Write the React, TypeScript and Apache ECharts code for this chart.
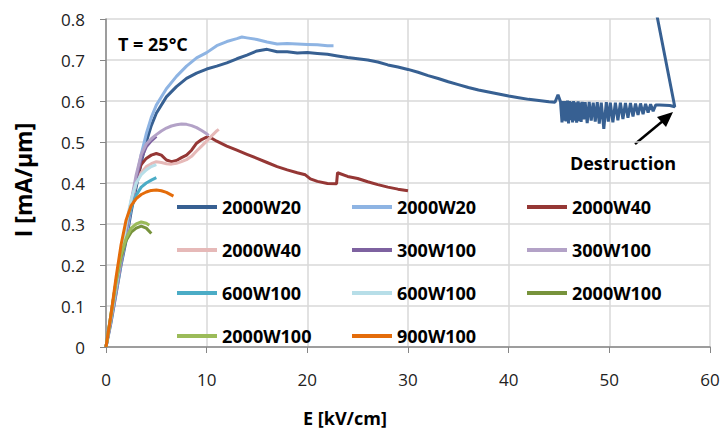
import React, { useEffect, useRef } from "react";
import * as echarts from "echarts";

// [E (kV/cm), I (mA/µm)] pairs
const s2000W20a: number[][] = [
  [0, 0], [0.5, 0.06], [1, 0.13], [1.5, 0.2], [2, 0.26], [2.5, 0.33], [3, 0.39], [3.5, 0.45], [4, 0.5],
  [4.5, 0.54], [5, 0.57], [6, 0.61], [7, 0.635], [8, 0.655], [9, 0.668], [10, 0.678], [11, 0.685],
  [12, 0.693], [13, 0.703], [14, 0.712], [15, 0.722], [16, 0.726], [17, 0.72], [18, 0.72], [19, 0.717],
  [20, 0.718], [21, 0.716], [22, 0.714], [23, 0.71], [24, 0.706], [25, 0.703], [26, 0.7], [27, 0.695],
  [28, 0.688], [29, 0.683], [30, 0.677], [31, 0.67], [32, 0.662], [33, 0.655], [34, 0.647], [35, 0.64],
  [36, 0.633], [37, 0.627], [38, 0.622], [39, 0.617], [40, 0.612], [41, 0.608], [42, 0.604], [43, 0.601],
  [44, 0.598], [44.6, 0.597], [44.9, 0.615], [45.15, 0.598],
  [45.3, 0.548], [45.4, 0.6], [45.5, 0.552], [45.6, 0.6], [45.7, 0.55], [45.85, 0.601], [45.95, 0.545],
  [46.05, 0.6], [46.15, 0.553], [46.25, 0.598], [46.35, 0.548], [46.45, 0.6], [46.55, 0.552], [46.65, 0.597],
  [46.75, 0.547], [46.9, 0.599], [47.0, 0.551], [47.1, 0.596], [47.2, 0.549], [47.3, 0.598], [47.45, 0.555],
  [47.6, 0.597], [47.8, 0.546], [48.0, 0.598], [48.2, 0.552], [48.4, 0.596], [48.6, 0.55], [48.8, 0.597],
  [49.0, 0.545], [49.2, 0.596], [49.45, 0.532], [49.7, 0.597], [49.9, 0.55], [50.1, 0.596], [50.35, 0.548],
  [50.6, 0.596], [50.85, 0.553], [51.1, 0.596], [51.35, 0.556], [51.6, 0.595], [51.85, 0.559], [52.1, 0.595],
  [52.35, 0.562], [52.6, 0.594], [52.85, 0.566], [53.1, 0.594], [53.35, 0.568], [53.6, 0.593], [53.85, 0.572],
  [54.1, 0.592], [54.35, 0.575], [54.6, 0.59], [55.0, 0.59], [56.0, 0.589], [56.5, 0.586], [54.0, 0.9],
];
const s2000W20b: number[][] = [
  [0, 0], [0.5, 0.065], [1, 0.135], [1.5, 0.205], [2, 0.27], [2.5, 0.34], [3, 0.41], [3.5, 0.47], [4, 0.52],
  [4.5, 0.56], [5, 0.59], [6, 0.63], [7, 0.66], [8, 0.685], [9, 0.705], [10, 0.718], [11, 0.735], [12, 0.745],
  [13, 0.752], [13.5, 0.756], [14, 0.754], [15, 0.75], [16, 0.744], [17, 0.739], [18, 0.74], [19, 0.739],
  [20, 0.738], [21, 0.737], [22, 0.735], [22.6, 0.735],
];
const s2000W40a: number[][] = [
  [0, 0], [1, 0.14], [2, 0.29], [3, 0.41], [3.5, 0.445], [4, 0.46], [4.5, 0.468], [5, 0.472], [5.5, 0.468],
  [6, 0.456], [6.5, 0.452], [7, 0.455], [7.5, 0.462], [8, 0.468], [8.5, 0.48], [9, 0.497], [9.5, 0.506],
  [10, 0.512], [10.5, 0.509], [11, 0.502], [12, 0.49], [13, 0.48], [14, 0.47], [15, 0.46], [16, 0.45],
  [17, 0.44], [18, 0.432], [19, 0.425], [19.8, 0.42], [20.3, 0.41], [21, 0.404], [22, 0.399], [22.9, 0.398],
  [23.0, 0.425], [24, 0.416], [25, 0.411], [26, 0.403], [27, 0.396], [28, 0.39], [29, 0.385], [30, 0.381],
];
const s2000W40b: number[][] = [
  [0, 0], [1, 0.14], [2, 0.29], [3, 0.4], [3.5, 0.425], [4, 0.44], [4.5, 0.447], [5, 0.452], [5.5, 0.45],
  [6, 0.447], [6.5, 0.446], [7, 0.448], [7.5, 0.452], [8, 0.457], [8.5, 0.465], [9, 0.478], [9.5, 0.49],
  [10, 0.502], [10.5, 0.515], [11, 0.527], [11.2, 0.531],
];
const s300W100a: number[][] = [
  [0, 0], [1, 0.14], [2, 0.285], [3, 0.41], [3.5, 0.46], [4, 0.488], [4.5, 0.503], [5, 0.514],
];
const s300W100b: number[][] = [
  [0, 0], [1, 0.14], [2, 0.29], [3, 0.42], [3.5, 0.47], [4, 0.495], [4.5, 0.508], [5, 0.518], [5.5, 0.527],
  [6, 0.534], [6.5, 0.539], [7, 0.542], [7.5, 0.544], [8, 0.543], [8.5, 0.54], [9, 0.535], [9.5, 0.528],
  [10, 0.52], [10.2, 0.516],
];
const s600W100a: number[][] = [
  [0, 0], [1, 0.15], [2, 0.3], [2.5, 0.34], [3, 0.37], [3.5, 0.39], [4, 0.4], [4.5, 0.407], [5, 0.413],
];
const s600W100b: number[][] = [
  [0, 0], [1, 0.15], [2, 0.3], [2.5, 0.36], [3, 0.4], [3.5, 0.42], [4, 0.432], [4.5, 0.44], [5, 0.445],
];
const s2000W100a: number[][] = [
  [0, 0], [0.5, 0.08], [1, 0.16], [1.5, 0.22], [2, 0.26], [2.5, 0.28], [3, 0.29], [3.5, 0.295], [4, 0.29],
  [4.5, 0.277],
];
const s2000W100b: number[][] = [
  [0, 0], [0.5, 0.08], [1, 0.16], [1.5, 0.225], [2, 0.265], [2.5, 0.29], [3, 0.3], [3.5, 0.305], [4, 0.302],
  [4.3, 0.297],
];
const s900W100: number[][] = [
  [0, 0], [0.5, 0.08], [1, 0.17], [1.5, 0.25], [2, 0.31], [2.5, 0.345], [3, 0.362], [3.5, 0.372], [4, 0.378],
  [4.5, 0.382], [5, 0.383], [5.5, 0.381], [6, 0.377], [6.7, 0.368],
];

const seriesNames = [
  "2000W20#a", "2000W20#b", "2000W40#a", "2000W40#b", "300W100#a", "300W100#b",
  "600W100#a", "600W100#b", "2000W100#a", "2000W100#b", "900W100",
];
const seriesData = [
  s2000W20a, s2000W20b, s2000W40a, s2000W40b, s300W100a, s300W100b,
  s600W100a, s600W100b, s2000W100a, s2000W100b, s900W100,
];
const seriesColors = [
  "#376092", "#8EB4E3", "#953735", "#E6B9B8", "#7E62A0", "#B3A2C7",
  "#4BACC6", "#B7DEE8", "#77933C", "#9BBB59", "#E46C0A",
];
const legendCols = [
  ["2000W20#a", "2000W40#b", "600W100#a", "2000W100#b"],
  ["2000W20#b", "300W100#a", "600W100#b", "900W100"],
  ["2000W40#a", "300W100#b", "2000W100#a"],
];
const legendLefts = [177, 352, 527];

const FONT = "'Open Sans', 'Noto Sans', sans-serif";

export default function App() {
  const ref = useRef<HTMLDivElement>(null);
  useEffect(() => {
    if (!ref.current) return;
    const chart = echarts.init(ref.current, undefined, { renderer: "svg" });
    const series = seriesNames.map((name, i) => ({
      name,
      type: "line",
      data: seriesData[i],
      showSymbol: false,
      symbol: "none",
      clip: true,
      color: seriesColors[i],
      itemStyle: { color: seriesColors[i] },
      lineStyle: { color: seriesColors[i], width: 3 },
      z: 2,
    }));
    const legends = legendCols.map((col, k) => ({
      orient: "vertical",
      left: legendLefts[k],
      top: 197,
      padding: 0,
      data: col,
      icon: "rect",
      itemWidth: 40,
      itemHeight: 4,
      itemGap: 23,
      selectedMode: false,
      formatter: (n: string) => n.split("#")[0],
      textStyle: { fontFamily: FONT, fontWeight: "bold", fontSize: 18, color: "#000", lineHeight: 20 },
    }));
    chart.setOption({
      animation: false,
      backgroundColor: "#fff",
      grid: { left: 106, right: 13, top: 19, bottom: 87, containLabel: false },
      xAxis: {
        type: "value",
        min: 0,
        max: 60,
        interval: 10,
        axisLine: { show: true, lineStyle: { color: "#868686", width: 1.5 } },
        axisTick: { show: true, length: 6, lineStyle: { color: "#868686" } },
        axisLabel: { fontFamily: FONT, fontSize: 17, color: "#222", margin: 24 },
        splitLine: { show: true, lineStyle: { color: "#D9D9D9", width: 1.5 } },
      },
      yAxis: {
        type: "value",
        min: 0,
        max: 0.8,
        interval: 0.1,
        axisLine: { show: true, lineStyle: { color: "#868686", width: 1.5 } },
        axisTick: { show: true, length: 6, lineStyle: { color: "#868686" } },
        axisLabel: {
          fontFamily: FONT,
          fontSize: 17,
          color: "#222",
          margin: 21,
          formatter: (v: number) => (v === 0 ? "0" : v.toFixed(1)),
        },
        splitLine: { show: true, lineStyle: { color: "#D9D9D9", width: 1.5 } },
      },
      legend: legends,
      series,
      graphic: [
        {
          type: "text",
          x: 118,
          y: 44,
          style: { text: "T = 25°C", font: `bold 18px ${FONT}`, fill: "#000", textVerticalAlign: "middle" },
        },
        {
          type: "text",
          x: 623,
          y: 163,
          style: {
            text: "Destruction",
            font: `bold 18px ${FONT}`,
            fill: "#000",
            textAlign: "center",
            textVerticalAlign: "middle",
          },
        },
        {
          type: "line",
          shape: { x1: 635, y1: 144, x2: 664, y2: 120 },
          style: { stroke: "#000", lineWidth: 2.5 },
        },
        {
          type: "polygon",
          shape: { points: [[673, 112], [657, 117], [666, 127]] },
          style: { fill: "#000" },
        },
        {
          type: "text",
          x: 23,
          y: 180,
          rotation: Math.PI / 2,
          style: {
            text: "I [mA/µm]",
            font: `bold 23px ${FONT}`,
            fill: "#000",
            textAlign: "center",
            textVerticalAlign: "middle",
          },
        },
        {
          type: "text",
          x: 345,
          y: 418,
          style: {
            text: "E [kV/cm]",
            font: `bold 18px ${FONT}`,
            fill: "#000",
            textAlign: "center",
            textVerticalAlign: "middle",
          },
        },
      ],
    });
    return () => chart.dispose();
  }, []);
  return <div ref={ref} style={{ width: 723, height: 434, position: "absolute", left: 0, top: 0 }} />;
}
